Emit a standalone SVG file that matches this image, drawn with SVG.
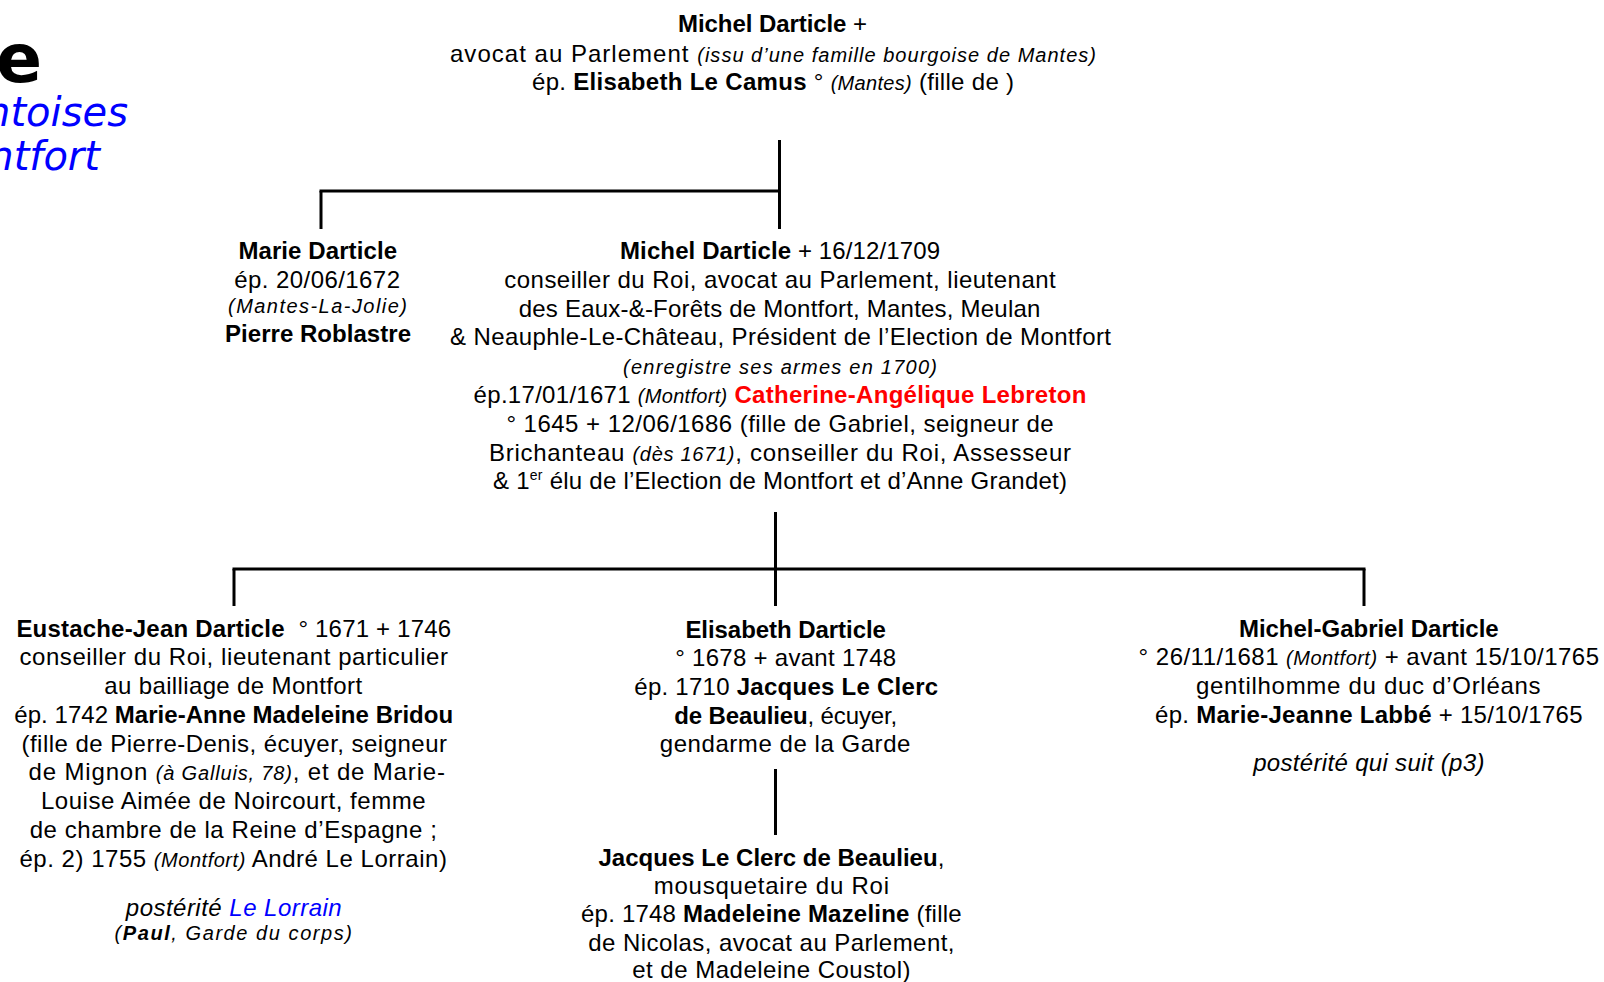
<svg xmlns="http://www.w3.org/2000/svg" width="1604" height="982" viewBox="0 0 1604 982">
<style>
text{font-family:"Liberation Sans",Arial,sans-serif;font-size:24px;fill:#000}
.b{font-weight:bold}
.i{font-style:italic}
.si{font-style:italic;font-size:20px}
.red{fill:#ff0000}
.blue{fill:#0000ff}
.sup{font-size:14px}
.ttl{font-family:"DejaVu Sans",Verdana,sans-serif}
.conn line{stroke:#000;stroke-width:3;fill:none}
</style>
<rect width="1604" height="982" fill="#fff"/>

<g id="title">
<text class="ttl b" x="42" y="82" text-anchor="end" style="font-size:68px">e</text>
<text class="ttl i blue" x="128" y="126" text-anchor="end" style="font-size:40px">ntoises</text>
<text class="ttl i blue" x="100" y="170" text-anchor="end" style="font-size:40px">ntfort</text>
</g>

<g class="conn" id="connectors">
<line x1="779.5" y1="140" x2="779.5" y2="229"/>
<line x1="319.5" y1="191" x2="781" y2="191"/>
<line x1="321" y1="191" x2="321" y2="229"/>
<line x1="775.5" y1="512" x2="775.5" y2="606"/>
<line x1="232.5" y1="569" x2="1365.5" y2="569"/>
<line x1="234" y1="569" x2="234" y2="606"/>
<line x1="1364" y1="569" x2="1364" y2="606"/>
<line x1="775.5" y1="769" x2="775.5" y2="835"/>
</g>

<g id="node-michel-pere">
<text x="678" y="32" textLength="189"><tspan class="b">Michel Darticle</tspan> +</text>
<text x="450" y="61.5" textLength="646">avocat au Parlement <tspan class="si">(issu d’une famille bourgoise de Mantes)</tspan></text>
<text x="532" y="90" textLength="482">ép. <tspan class="b">Elisabeth Le Camus</tspan> ° <tspan class="si">(Mantes)</tspan> (fille de )</text>
</g>

<g id="node-marie">
<text class="b" x="238.4" y="259" textLength="158.6">Marie Darticle</text>
<text x="234.3" y="287.8" textLength="165.7">ép. 20/06/1672</text>
<text class="si" x="228" y="313" textLength="179">(Mantes-La-Jolie)</text>
<text class="b" x="225" y="342" textLength="186">Pierre Roblastre</text>
</g>

<g id="node-michel">
<text x="620" y="259" textLength="320"><tspan class="b">Michel Darticle</tspan> + 16/12/1709</text>
<text x="504.3" y="287.8" textLength="551.4">conseiller du Roi, avocat au Parlement, lieutenant</text>
<text x="518.7" y="316.6" textLength="521.7">des Eaux-&amp;-Forêts de Montfort, Mantes, Meulan</text>
<text x="450" y="345.4" textLength="661">&amp; Neauphle-Le-Château, Président de l’Election de Montfort</text>
<text class="si" x="623" y="373.5" textLength="314">(enregistre ses armes en 1700)</text>
<text x="473.6" y="403" textLength="612.8">ép.17/01/1671 <tspan class="si">(Montfort)</tspan> <tspan class="b red">Catherine-Angélique Lebreton</tspan></text>
<text x="506.4" y="431.8" textLength="547.3">° 1645 + 12/06/1686 (fille de Gabriel, seigneur de</text>
<text x="489" y="460.6" textLength="582">Brichanteau <tspan class="si">(dès 1671)</tspan>, conseiller du Roi, Assesseur</text>
<text x="493" y="489.4" textLength="574">&amp; 1<tspan class="sup" dy="-9">er</tspan><tspan dy="9"> élu de l’Election de Montfort et d’Anne Grandet)</tspan></text>
</g>

<g id="node-eustache">
<text x="16.4" y="636.6" textLength="434.7"><tspan class="b">Eustache-Jean Darticle</tspan>&#160; ° 1671 + 1746</text>
<text x="19.4" y="665.3" textLength="428.6">conseiller du Roi, lieutenant particulier</text>
<text x="104.3" y="694" textLength="257.8">au bailliage de Montfort</text>
<text x="14.3" y="722.7" textLength="438.9">ép. 1742 <tspan class="b">Marie-Anne Madeleine Bridou</tspan></text>
<text x="21.5" y="751.5" textLength="425.5">(fille de Pierre-Denis, écuyer, seigneur</text>
<text x="28.6" y="780.2" textLength="416.4">de Mignon <tspan class="si">(à Galluis, 78)</tspan>, et de Marie-</text>
<text x="40.9" y="809" textLength="384.7">Louise Aimée de Noircourt, femme</text>
<text x="29.7" y="837.7" textLength="407.1">de chambre de la Reine d’Espagne ;</text>
<text x="19.4" y="866.5" textLength="427.6">ép. 2) 1755 <tspan class="si">(Montfort)</tspan> André Le Lorrain)</text>
<text class="i" x="125.8" y="916" textLength="215.9">postérité <tspan class="blue">Le Lorrain</tspan></text>
<text class="si" x="114.6" y="940" textLength="237.4">(<tspan class="b">Paul</tspan>, Garde du corps)</text>
</g>

<g id="node-elisabeth">
<text class="b" x="685.4" y="637.6" textLength="200.5">Elisabeth Darticle</text>
<text x="675.2" y="666.3" textLength="221">° 1678 + avant 1748</text>
<text x="634.3" y="695" textLength="303.8">ép. 1710 <tspan class="b">Jacques Le Clerc</tspan></text>
<text x="674.2" y="723.6" textLength="223"><tspan class="b">de Beaulieu</tspan>, écuyer,</text>
<text x="659.8" y="752.3" textLength="250.6">gendarme de la Garde</text>
</g>

<g id="node-jacques">
<text x="598.5" y="865.8" textLength="345.8"><tspan class="b">Jacques Le Clerc de Beaulieu</tspan>,</text>
<text x="653.7" y="894.4" textLength="235.3">mousquetaire du Roi</text>
<text x="581" y="922.1" textLength="380.6">ép. 1748 <tspan class="b">Madeleine Mazeline</tspan> (fille</text>
<text x="588.2" y="950.7" textLength="366.3">de Nicolas, avocat au Parlement,</text>
<text x="632.2" y="978.3" textLength="278.3">et de Madeleine Coustol)</text>
</g>

<g id="node-michel-gabriel">
<text class="b" x="1238.9" y="636.6" textLength="259.8">Michel-Gabriel Darticle</text>
<text x="1138.6" y="665.3" textLength="460.4">° 26/11/1681 <tspan class="si">(Montfort)</tspan> + avant 15/10/1765</text>
<text x="1195.9" y="694" textLength="344.7">gentilhomme du duc d’Orléans</text>
<text x="1155" y="722.7" textLength="427.6">ép. <tspan class="b">Marie-Jeanne Labbé</tspan> + 15/10/1765</text>
<text class="i" x="1253.2" y="770.6" textLength="231.2">postérité qui suit (p3)</text>
</g>
</svg>
